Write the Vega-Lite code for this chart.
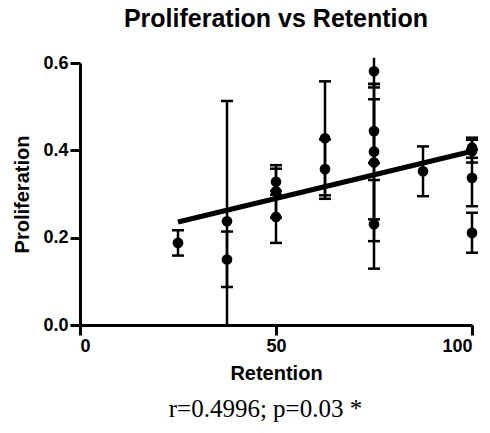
{
  "$schema": "https://vega.github.io/schema/vega-lite/v6.json",
  "background": "white",
  "padding": {"left": 12, "top": 7, "right": 0, "bottom": 2},
  "title": {"text": "r=0.4996; p=0.03 *", "orient": "bottom", "font": "Liberation Serif", "fontSize": 25, "fontWeight": "normal", "color": "black", "anchor": "middle", "offset": 14, "dx": 18},
  "config": {
    "view": {"stroke": null},
    "axis": {
      "grid": false,
      "domainColor": "black", "domainWidth": 3,
      "tickColor": "black", "tickWidth": 3, "tickSize": 10,
      "labelFont": "Liberation Sans", "labelFontWeight": "bold", "labelFontSize": 18, "labelColor": "black",
      "titleFont": "Liberation Sans", "titleFontWeight": "bold", "titleFontSize": 20, "titleColor": "black"
    }
  },
  "vconcat": [
    {
      "width": 392,
      "height": 262,
      "title": {"text": "Proliferation vs Retention", "font": "Liberation Sans", "fontSize": 25, "fontWeight": "bold", "color": "black", "anchor": "middle", "offset": 22},
      "data": {"values": [
        {"retention": 25, "prolif": 0.188, "lo": 0.159, "hi": 0.217},
        {"retention": 37.5, "prolif": 0.2375, "lo": 0.0, "hi": 0.513},
        {"retention": 37.5, "prolif": 0.150, "lo": 0.087, "hi": 0.214},
        {"retention": 50, "prolif": 0.328, "lo": 0.298, "hi": 0.358},
        {"retention": 50, "prolif": 0.306, "lo": 0.246, "hi": 0.366},
        {"retention": 50, "prolif": 0.2475, "lo": 0.188, "hi": 0.307},
        {"retention": 62.5, "prolif": 0.4276, "lo": 0.297, "hi": 0.558},
        {"retention": 62.5, "prolif": 0.357, "lo": 0.289, "hi": 0.425},
        {"retention": 75, "prolif": 0.581, "lo": 0.544, "hi": 0.612},
        {"retention": 75, "prolif": 0.444, "lo": 0.371, "hi": 0.517},
        {"retention": 75, "prolif": 0.397, "lo": 0.242, "hi": 0.552},
        {"retention": 75, "prolif": 0.372, "lo": 0.192, "hi": 0.552},
        {"retention": 75, "prolif": 0.2306, "lo": 0.129, "hi": 0.332},
        {"retention": 87.5, "prolif": 0.352, "lo": 0.295, "hi": 0.409},
        {"retention": 100, "prolif": 0.406, "lo": 0.383, "hi": 0.429},
        {"retention": 100, "prolif": 0.398, "lo": 0.372, "hi": 0.424},
        {"retention": 100, "prolif": 0.337, "lo": 0.272, "hi": 0.402},
        {"retention": 100, "prolif": 0.211, "lo": 0.1655, "hi": 0.257}
      ]},
      "layer": [
        {
          "mark": {"type": "rule", "color": "black", "strokeWidth": 2.5},
          "encoding": {
            "x": {"field": "retention", "type": "quantitative", "scale": {"domain": [0, 100]}, "axis": {"values": [0, 50, 100], "title": "Retention", "titlePadding": 8, "labelPadding": 2}},
            "y": {"field": "lo", "type": "quantitative", "scale": {"domain": [0, 0.6]}, "axis": {"values": [0, 0.2, 0.4, 0.6], "format": ".1f", "title": "Proliferation", "titlePadding": 10, "labelPadding": 2}},
            "y2": {"field": "hi"}
          }
        },
        {
          "transform": [{"filter": "datum.hi <= 0.6"}],
          "mark": {"type": "tick", "orient": "horizontal", "color": "black", "thickness": 2.5, "size": 12, "opacity": 1},
          "encoding": {
            "x": {"field": "retention", "type": "quantitative"},
            "y": {"field": "hi", "type": "quantitative"}
          }
        },
        {
          "transform": [{"filter": "datum.lo > 0"}],
          "mark": {"type": "tick", "orient": "horizontal", "color": "black", "thickness": 2.5, "size": 12, "opacity": 1},
          "encoding": {
            "x": {"field": "retention", "type": "quantitative"},
            "y": {"field": "lo", "type": "quantitative"}
          }
        },
        {
          "mark": {"type": "point", "filled": true, "color": "black", "size": 115, "opacity": 1},
          "encoding": {
            "x": {"field": "retention", "type": "quantitative"},
            "y": {"field": "prolif", "type": "quantitative"}
          }
        },
        {
          "data": {"values": [
            {"retention": 25, "fit": 0.236},
            {"retention": 100, "fit": 0.398}
          ]},
          "mark": {"type": "line", "color": "black", "strokeWidth": 5},
          "encoding": {
            "x": {"field": "retention", "type": "quantitative"},
            "y": {"field": "fit", "type": "quantitative"}
          }
        }
      ]
    }
  ]
}
